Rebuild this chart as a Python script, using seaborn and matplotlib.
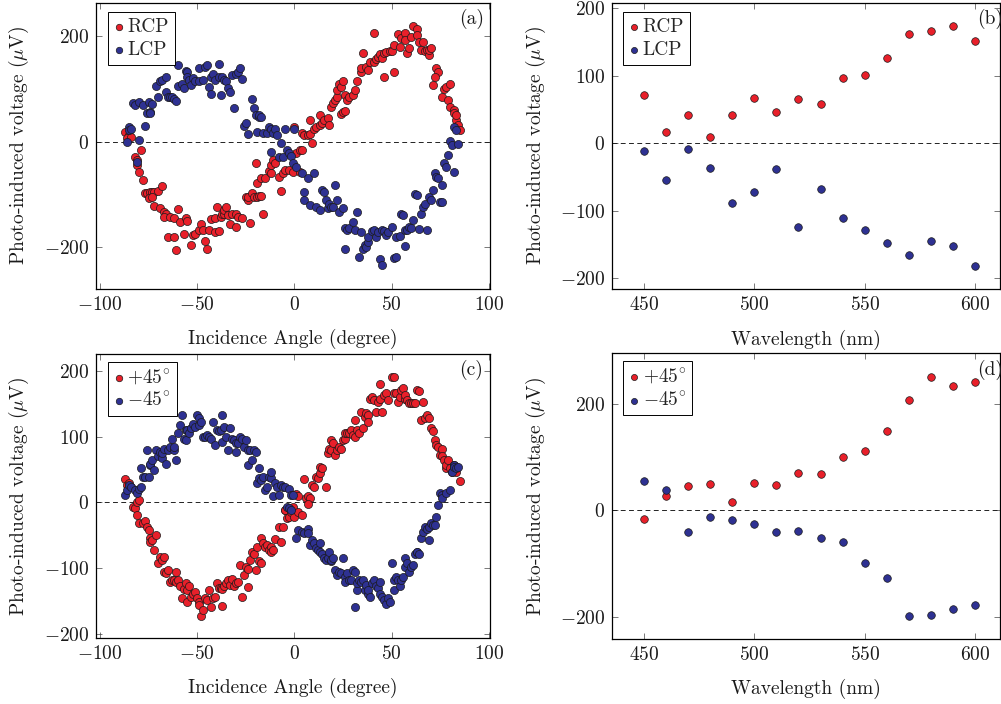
import matplotlib
matplotlib.use("Agg")
import matplotlib.pyplot as plt
import numpy as np
import seaborn as sns

# ---- panel (a): circular polarisation, voltage vs incidence angle (deg, uV)
rcp_a = [(-87, 19), (-85, 13), (-86, 8), (-84, 9), (-82, -28), (-81, -35), (-81, -44), (-80, -57),
         (-79, -16), (-78, -73), (-77, -97), (-76, -97), (-74, -95), (-73, -96), (-72, -95), (-70, -93),
         (-75, -107), (-73, -104), (-68, -84), (-72, -122), (-69, -125), (-67, -132), (-66, -136),
         (-67, -142), (-64, -142), (-62, -145), (-60, -127), (-65, -181), (-62, -180), (-61, -205),
         (-59, -151), (-56, -145), (-55, -150), (-57, -175), (-53, -196), (-52, -177), (-51, -174),
         (-49, -167), (-48, -156), (-47, -167), (-44, -167), (-46, -187), (-45, -202), (-41, -170),
         (-39, -168), (-43, -146), (-41, -145), (-40, -123), (-38, -142), (-37, -136), (-36, -136),
         (-36, -129), (-35, -124), (-33, -156), (-34, -138), (-32, -136), (-30, -136), (-29, -142),
         (-27, -145), (-30, -161), (-23, -153), (-25, -105), (-24, -110), (-24, -104), (-22, -97),
         (-21, -105), (-19, -104), (-18, -103), (-17, -103), (-16, -136), (-20, -41), (-19, -78),
         (-17, -69), (-15, -69), (-13, -55), (-12, -60), (-12, -44), (-11, -35), (-10, -41), (-8, -66),
         (-7, -93), (-6, -60), (-5, -54), (-3, -54), (-1, -57), (1, -22), (3, -16), (4, -16), (3, -58),
         (0, 28), (4, 16), (5, 13), (7, 13), (8, 15), (9, -3), (8, 41), (10, 25), (11, 28), (13, 32),
         (13, 50), (14, 35), (15, 41), (17, 44), (18, 32), (19, 65), (20, 73), (21, 79), (22, 85),
         (22, 98), (23, 110), (24, 52), (25, 57), (26, 59), (24, 103), (25, 114), (26, 88), (27, 79),
         (28, 85), (30, 88), (31, 98), (32, 114), (34, 132), (34, 139), (35, 168), (37, 142), (38, 136),
         (39, 151), (41, 206), (41, 151), (42, 156), (43, 161), (44, 166), (45, 158), (46, 168),
         (46, 122), (47, 170), (49, 172), (50, 172), (51, 131), (51, 183), (53, 203), (54, 180),
         (55, 196), (57, 205), (57, 192), (58, 167), (59, 177), (60, 199), (61, 218), (63, 214),
         (63, 202), (64, 189), (65, 173), (66, 189), (67, 172), (68, 173), (69, 164), (69, 174),
         (70, 177), (73, 139), (74, 132), (72, 123), (71, 107), (76, 85), (77, 99), (78, 104), (79, 79),
         (80, 110), (80, 66), (82, 60), (82, 54), (83, 42), (83, 50), (84, 32), (85, 22)]

lcp_a = [(-86, 0), (-85, 28), (-85, 22), (-84, 25), (-81, -38), (-80, 3), (-77, 30), (-83, 73),
         (-82, 69), (-80, 76), (-78, 69), (-76, 54), (-75, 76), (-74, 57), (-73, 71), (-74, 54),
         (-71, 105), (-70, 85), (-69, 114), (-68, 117), (-66, 95), (-66, 122), (-65, 85), (-64, 85),
         (-63, 84), (-62, 80), (-61, 78), (-60, 145), (-60, 105), (-58, 109), (-57, 101), (-56, 134),
         (-55, 132), (-55, 123), (-54, 117), (-53, 107), (-52, 120), (-51, 114), (-49, 139), (-49, 114),
         (-47, 117), (-46, 142), (-45, 145), (-44, 104), (-43, 90), (-43, 123), (-42, 129), (-41, 117),
         (-39, 147), (-39, 123), (-38, 88), (-37, 123), (-36, 117), (-35, 114), (-34, 101), (-33, 95),
         (-32, 126), (-31, 63), (-30, 128), (-29, 132), (-28, 139), (-27, 118), (-26, 30), (-25, 35),
         (-24, 15), (-22, 80), (-21, 63), (-20, 50), (-19, 19), (-18, 47), (-18, 50), (-17, 46),
         (-16, 16), (-14, 16), (-13, 27), (-12, 25), (-11, 16), (-10, 25), (-9, 13), (-7, -3),
         (-12, -19), (-8, -28), (-6, -28), (-5, 25), (-4, -16), (-3, -22), (-2, -27), (-1, -41),
         (0, 25), (1, -47), (4, -60), (7, -69), (10, -60), (5, -95), (5, -110), (8, -120), (11, -123),
         (13, -129), (14, -91), (15, -95), (16, -110), (17, -126), (18, -118), (19, -123), (20, -123),
         (21, -82), (22, -110), (23, -132), (25, -126), (26, -164), (26, -202), (27, -167), (28, -164),
         (30, -151), (31, -167), (32, -132), (34, -170), (33, -218), (35, -202), (36, -196), (37, -199),
         (38, -189), (38, -180), (40, -168), (41, -167), (42, -181), (43, -170), (44, -221), (45, -233),
         (45, -167), (46, -168), (47, -177), (48, -170), (50, -161), (51, -219), (52, -218), (52, -180),
         (54, -179), (55, -136), (56, -139), (57, -167), (57, -197), (58, -167), (59, -161), (60, -164),
         (61, -148), (62, -98), (63, -101), (64, -166), (65, -136), (66, -123), (67, -117), (68, -167),
         (69, -104), (70, -110), (71, -91), (72, -60), (73, -66), (74, -69), (75, -114), (76, -114),
         (76, -82), (77, -41), (78, -47), (79, -25), (80, 2), (81, -6), (82, 28), (82, -57), (83, 22),
         (84, -4)]

# ---- panel (c): linear polarisation +/-45 deg, voltage vs incidence angle
plus45_c = [(-87, 35), (-86, 26), (-85, 29), (-84, 24), (-83, -7), (-82, -9), (-81, 1), (-80, 4),
            (-81, -19), (-80, -32), (-78, -31), (-77, -29), (-76, -37), (-75, -42), (-74, -55),
            (-74, -60), (-73, -57), (-72, -72), (-71, -50), (-70, -93), (-69, -83), (-68, -88),
            (-67, -83), (-67, -106), (-66, -108), (-65, -103), (-64, -121), (-63, -118), (-62, -118),
            (-61, -106), (-61, -121), (-60, -118), (-59, -128), (-58, -146), (-57, -132), (-56, -123),
            (-55, -133), (-55, -151), (-54, -128), (-53, -144), (-52, -139), (-51, -136), (-50, -146),
            (-49, -151), (-49, -156), (-48, -173), (-47, -164), (-46, -146), (-45, -148), (-44, -133),
            (-43, -159), (-42, -146), (-41, -144), (-40, -123), (-39, -131), (-38, -131), (-37, -132),
            (-37, -158), (-36, -128), (-35, -123), (-34, -118), (-33, -126), (-32, -116), (-31, -128),
            (-30, -123), (-29, -121), (-28, -95), (-27, -144), (-26, -111), (-25, -98), (-24, -101),
            (-24, -129), (-23, -88), (-22, -75), (-21, -78), (-20, -103), (-19, -68), (-18, -90),
            (-17, -92), (-17, -55), (-16, -62), (-15, -68), (-14, -65), (-13, -73), (-12, -68),
            (-12, -75), (-11, -72), (-10, -56), (-8, -37), (-7, -60), (-6, -37), (-5, -12), (-5, -11),
            (-4, -24), (-3, -22), (-2, -14), (-1, -7), (0, -22), (1, 13), (2, -14), (4, -19), (2, 10),
            (5, 36), (6, 6), (7, 9), (8, 6), (7, -2), (9, 26), (10, 24), (11, 39), (12, 37), (13, 44),
            (13, 54), (14, 52), (16, 24), (17, 75), (18, 82), (19, 80), (19, 95), (20, 90), (21, 72),
            (22, 80), (23, 85), (24, 82), (25, 95), (26, 97), (26, 105), (27, 106), (28, 105), (29, 110),
            (30, 103), (31, 100), (31, 125), (32, 110), (33, 105), (34, 138), (35, 113), (36, 130),
            (37, 136), (38, 133), (38, 123), (39, 158), (40, 161), (41, 156), (42, 138), (43, 153),
            (44, 180), (44, 158), (45, 138), (46, 163), (47, 166), (48, 156), (50, 191), (51, 191),
            (51, 166), (52, 166), (53, 153), (54, 161), (55, 171), (56, 174), (57, 158), (57, 163),
            (58, 156), (59, 151), (60, 151), (61, 151), (62, 151), (63, 171), (64, 169), (66, 153),
            (65, 125), (67, 128), (68, 133), (69, 128), (70, 113), (71, 108), (72, 95), (73, 87),
            (74, 85), (75, 72), (76, 82), (76, 70), (77, 64), (78, 52), (78, 57), (79, 64), (80, 52),
            (81, 47), (82, 57), (82, 54), (83, 47), (85, 32)]

minus45_c = [(-87, 11), (-86, 19), (-85, 26), (-84, 24), (-82, 19), (-81, 14), (-80, 21), (-79, 24),
             (-79, 52), (-78, 39), (-77, 39), (-76, 80), (-75, 39), (-74, 57), (-74, 59), (-73, 64),
             (-72, 49), (-71, 80), (-70, 70), (-69, 77), (-68, 67), (-68, 75), (-67, 82), (-66, 59),
             (-65, 80), (-64, 85), (-63, 97), (-62, 80), (-62, 85), (-61, 64), (-60, 105), (-59, 118),
             (-58, 133), (-57, 97), (-56, 110), (-56, 95), (-55, 110), (-54, 106), (-53, 113),
             (-52, 120), (-51, 115), (-50, 133), (-49, 118), (-49, 128), (-48, 123), (-47, 100),
             (-46, 100), (-45, 103), (-44, 100), (-43, 97), (-42, 123), (-41, 87), (-40, 110),
             (-39, 108), (-38, 110), (-37, 92), (-37, 133), (-36, 115), (-35, 100), (-34, 80),
             (-33, 113), (-32, 97), (-31, 95), (-30, 77), (-30, 90), (-29, 90), (-28, 100), (-27, 97),
             (-26, 85), (-25, 95), (-24, 57), (-24, 80), (-23, 80), (-22, 64), (-21, 80), (-20, 77),
             (-19, 29), (-18, 37), (-18, 52), (-17, 34), (-16, 39), (-15, 19), (-14, 24), (-13, 39),
             (-12, 37), (-12, 47), (-11, 9), (-10, 29), (-9, 24), (-8, 11), (-7, 26), (-6, 24),
             (-5, 24), (-3, 21), (-2, 11), (-1, 11), (-4, -7), (-3, -9), (-2, -12), (1, -55), (2, -42),
             (4, -45), (5, -47), (7, -40), (7, -47), (8, -65), (9, -57), (10, -62), (11, -70), (12, -73),
             (13, -75), (13, -62), (14, -78), (15, -85), (16, -88), (17, -85), (18, -75), (19, -90),
             (19, -88), (20, -85), (21, -103), (22, -111), (23, -106), (24, -108), (25, -85), (26, -113),
             (26, -121), (27, -108), (28, -118), (29, -118), (30, -103), (31, -106), (31, -159),
             (32, -134), (32, -123), (33, -118), (34, -121), (35, -118), (36, -134), (37, -126),
             (38, -139), (38, -134), (39, -144), (40, -123), (41, -118), (42, -128), (43, -131),
             (44, -121), (44, -139), (45, -144), (46, -149), (47, -154), (48, -146), (49, -151),
             (50, -93), (51, -134), (51, -118), (52, -113), (53, -118), (54, -128), (55, -118),
             (56, -113), (57, -85), (57, -98), (58, -93), (59, -106), (60, -98), (61, -95), (62, -78),
             (63, -75), (63, -75), (64, -78), (65, -55), (66, -45), (67, -37), (68, -40), (69, -57),
             (69, -37), (70, -32), (71, -35), (72, -35), (73, -22), (74, -4), (75, 14), (76, 11),
             (76, 6), (78, 14), (80, 19), (81, 47), (82, 57), (82, 54), (83, 52), (84, 54)]

# ---- panels (b) and (d): voltage vs wavelength
wavelength = [450, 460, 470, 480, 490, 500, 510, 520, 530, 540, 550, 560, 570, 580, 590, 600]
rcp_b = [72, 17, 42, 10, 42, 67, 46, 65, 58, 96, 101, 126, 161, 166, 173, 152]
lcp_b = [-11, -55, -9, -36, -88, -72, -38, -124, -67, -111, -128, -148, -165, -144, -152, -181]
plus45_d = [-17, 27, 45, 50, 16, 52, 48, 71, 69, 100, 111, 149, 208, 251, 234, 241]
minus45_d = [55, 38, -40, -12, -18, -25, -40, -38, -52, -60, -98, -127, -199, -196, -186, -177]

RED = "#e8202a"
BLUE = "#2e3192"

sns.set_theme(style="ticks")
plt.rcParams["font.family"] = ["cmr10", "DejaVu Serif"]
plt.rcParams["mathtext.fontset"] = "cm"
plt.rcParams["axes.formatter.use_mathtext"] = True
plt.rcParams["axes.unicode_minus"] = True

W, H = 1001, 704
fig = plt.figure(figsize=(W / 100, H / 100), dpi=100)


def px_axes(left, top, right, bottom):
    return fig.add_axes([left / W, 1 - bottom / H, (right - left) / W, (bottom - top) / H])


ax_a = px_axes(96, 2.7, 490, 288.7)
ax_b = px_axes(612, 2.7, 1000, 289.3)
ax_c = px_axes(96, 354, 490, 638.3)
ax_d = px_axes(612, 353.3, 1000, 639.3)

FS = 14


def scatter(ax, x, y, color, label, size):
    sns.scatterplot(x=x, y=y, color=color, edgecolor="#1a1a1a", linewidth=0.5, s=size,
                    label=label, ax=ax, zorder=3)


def style(ax, xlim, ylim, xticks, yticks, xlabel, tag, leg_x, leg_y):
    ax.axhline(0, color="#222222", lw=0.7, ls=(0, (5, 3.5)), zorder=1)
    ax.set_xlim(*xlim)
    ax.set_ylim(*ylim)
    ax.set_xticks(xticks)
    ax.set_yticks(yticks)
    ax.tick_params(direction="in", top=True, right=True, length=4, width=0.5,
                   color="#444444", labelsize=FS, pad=5, labelcolor="#1a1a1a")
    for sp in ax.spines.values():
        sp.set_visible(True)
        sp.set_linewidth(0.9)
        sp.set_color("black")
    ax.set_xlabel(xlabel, fontsize=FS, color="#1a1a1a")
    ax.set_ylabel(r"Photo-induced voltage ($\mu$V)", fontsize=FS, color="#1a1a1a")
    ax.xaxis.set_label_coords(0.5, -0.175)
    ax.xaxis.label.set_va("center")
    ax.yaxis.set_label_coords(-0.195, 0.5)
    ax.yaxis.label.set_va("center")
    ax.text(tag[1], 0.978, tag[0], transform=ax.transAxes, ha="left", va="top",
            fontsize=FS, color="#1a1a1a")
    leg = ax.legend(loc="upper left", bbox_to_anchor=(leg_x, leg_y), borderaxespad=0,
                    frameon=True, fancybox=False, framealpha=1, edgecolor="black",
                    fontsize=FS, handlelength=0.5, handletextpad=0.2, borderpad=0.3,
                    labelspacing=0.25, markerscale=0.8)
    leg.get_frame().set_linewidth(0.7)


rcp_a_arr, lcp_a_arr = np.array(rcp_a), np.array(lcp_a)
scatter(ax_a, rcp_a_arr[:, 0], rcp_a_arr[:, 1], RED, "RCP", 34)
scatter(ax_a, lcp_a_arr[:, 0], lcp_a_arr[:, 1], BLUE, "LCP", 34)
style(ax_a, (-102, 100.5), (-278, 263), [-100, -50, 0, 50, 100], [-200, 0, 200],
      "Incidence Angle (degree)", ("(a)", 0.922), 0.03, 0.967)

scatter(ax_b, wavelength, rcp_b, RED, "RCP", 30)
scatter(ax_b, wavelength, lcp_b, BLUE, "LCP", 30)
style(ax_b, (435.5, 611.3), (-216, 208), [450, 500, 550, 600], [-200, -100, 0, 100, 200],
      "Wavelength (nm)", ("(b)", 0.94), 0.029, 0.967)

p45_arr, m45_arr = np.array(plus45_c), np.array(minus45_c)
scatter(ax_c, p45_arr[:, 0], p45_arr[:, 1], RED, r"$+45^{\!\circ}$", 34)
scatter(ax_c, m45_arr[:, 0], m45_arr[:, 1], BLUE, r"$-45^{\!\circ}$", 34)
style(ax_c, (-102, 100.5), (-207, 226), [-100, -50, 0, 50, 100], [-200, -100, 0, 100, 200],
      "Incidence Angle (degree)", ("(c)", 0.922), 0.03, 0.972)

scatter(ax_d, wavelength, plus45_d, RED, r"$+45^{\!\circ}$", 30)
scatter(ax_d, wavelength, minus45_d, BLUE, r"$-45^{\!\circ}$", 30)
style(ax_d, (435.5, 611.3), (-242, 295), [450, 500, 550, 600], [-200, 0, 200],
      "Wavelength (nm)", ("(d)", 0.94), 0.029, 0.972)

fig.savefig("out.png", dpi=100)
